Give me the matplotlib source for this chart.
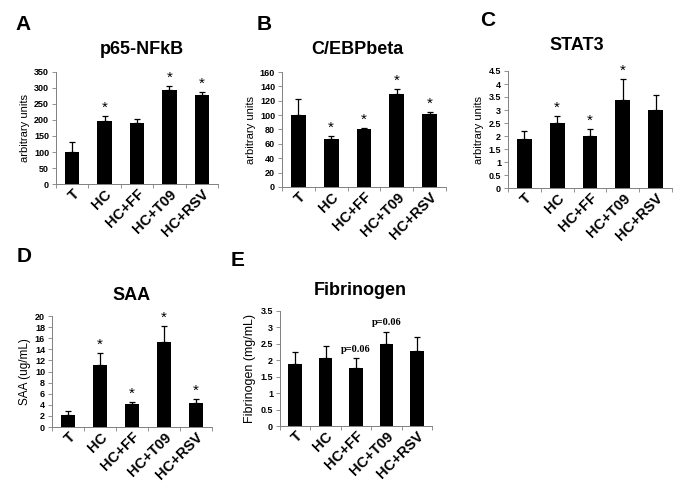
import matplotlib.pyplot as plt
import numpy as np

groups = ['T', 'HC', 'HC+FF', 'HC+T09', 'HC+RSV']

p65 = [100, 198, 190, 293, 278]
p65_err = [30, 15, 12, 12, 10]
p65_star = [False, True, False, True, True]

cebp = [100, 67, 80, 129, 101]
cebp_err = [23, 4, 2, 8, 3]
cebp_star = [False, True, True, True, True]

stat3 = [1.9, 2.5, 2.0, 3.4, 3.0]
stat3_err = [0.3, 0.28, 0.28, 0.8, 0.58]
stat3_star = [False, True, True, True, False]

saa = [2.2, 11.1, 4.1, 15.4, 4.3]
saa_err = [0.7, 2.2, 0.4, 2.8, 0.8]
saa_star = [False, True, True, True, True]

fib = [1.88, 2.07, 1.76, 2.5, 2.27]
fib_err = [0.37, 0.36, 0.3, 0.37, 0.43]
fib_note = ['', '', 'p=0.06', 'p=0.06', '']

W, H = 685, 498
plt.rcParams['font.family'] = ['Liberation Sans', 'DejaVu Sans']
fig = plt.figure(figsize=(W / 100, H / 100), dpi=100)


def panel(px, letter, lpos, title, tpos, vals, errs, marks, ylim, step, ylabel,
          serif_note=False, ylsize=8):
    x0, y0, x1, y1 = px
    ax = fig.add_axes([x0 / W, 1 - y1 / H, (x1 - x0) / W, (y1 - y0) / H])
    x = np.arange(len(groups))
    ax.bar(x, vals, width=0.45, color='black', zorder=2)
    ax.errorbar(x, vals, yerr=[np.zeros(len(vals)), errs], fmt='none',
                ecolor='black', elinewidth=0.9, capsize=2.5, capthick=0.9, zorder=3)
    ax.set_xlim(-0.5, len(groups) - 0.5)
    ax.set_ylim(0, ylim)
    ax.set_yticks(np.arange(0, ylim + step / 2, step))
    ax.yaxis.set_major_formatter(plt.FuncFormatter(lambda v, p: ('%g' % v)))
    ax.set_xticks(x)
    ax.set_xticklabels(groups, rotation=45, ha='right', rotation_mode='anchor',
                       fontsize=10.5, fontweight='bold')
    ax.tick_params(axis='x', length=0, pad=2)
    ax.set_xticks(np.arange(-0.5, len(groups)), minor=True)
    ax.tick_params(axis='x', which='minor', length=3, width=0.6, color='gray')
    ax.tick_params(axis='y', labelsize=6.5, length=3, width=0.6, color='gray', pad=2)
    for t in ax.get_yticklabels():
        t.set_fontweight('bold')
    for s in ['top', 'right']:
        ax.spines[s].set_visible(False)
    for s in ['left', 'bottom']:
        ax.spines[s].set_color('gray')
        ax.spines[s].set_linewidth(0.7)
    ax.set_ylabel(ylabel, fontsize=ylsize, labelpad=3)
    for i in range(len(groups)):
        top = vals[i] + errs[i]
        if serif_note:
            if marks[i]:
                ax.text(i, top + ylim * 0.04, marks[i], ha='center', va='bottom',
                        fontsize=7.5, fontweight='bold', family='Liberation Serif')
        elif marks[i]:
            ax.text(i, top + ylim * 0.01, '*', ha='center', va='bottom', fontsize=11)
    fig.text(lpos[0] / W, 1 - lpos[1] / H, letter, fontsize=15, fontweight='bold',
             ha='left', va='center')
    fig.text(tpos[0] / W, 1 - tpos[1] / H, title, fontsize=13, fontweight='bold',
             ha='center', va='center')
    return ax


panel((56, 72, 218, 184), 'A', (15, 25), 'p65-NFkB', (142, 50),
      p65, p65_err, p65_star, 350, 50, 'arbitrary units')
panel((282, 72, 446, 187), 'B', (257, 25), 'C/EBPbeta', (357, 50),
      cebp, cebp_err, cebp_star, 160, 20, 'arbitrary units')
panel((508, 71, 672, 188), 'C', (480, 20), 'STAT3', (577, 45),
      stat3, stat3_err, stat3_star, 4.5, 0.5, 'arbitrary units')
panel((52, 316, 212, 427), 'D', (17, 257), 'SAA', (132, 295),
      saa, saa_err, saa_star, 20, 2, 'SAA (ug/mL)', ylsize=8.5)
panel((280, 311, 432, 426), 'E', (231, 260), 'Fibrinogen', (360, 290),
      fib, fib_err, fib_note, 3.5, 0.5, 'Fibrinogen (mg/mL)', serif_note=True, ylsize=9)

fig.savefig('out.png', dpi=100)
